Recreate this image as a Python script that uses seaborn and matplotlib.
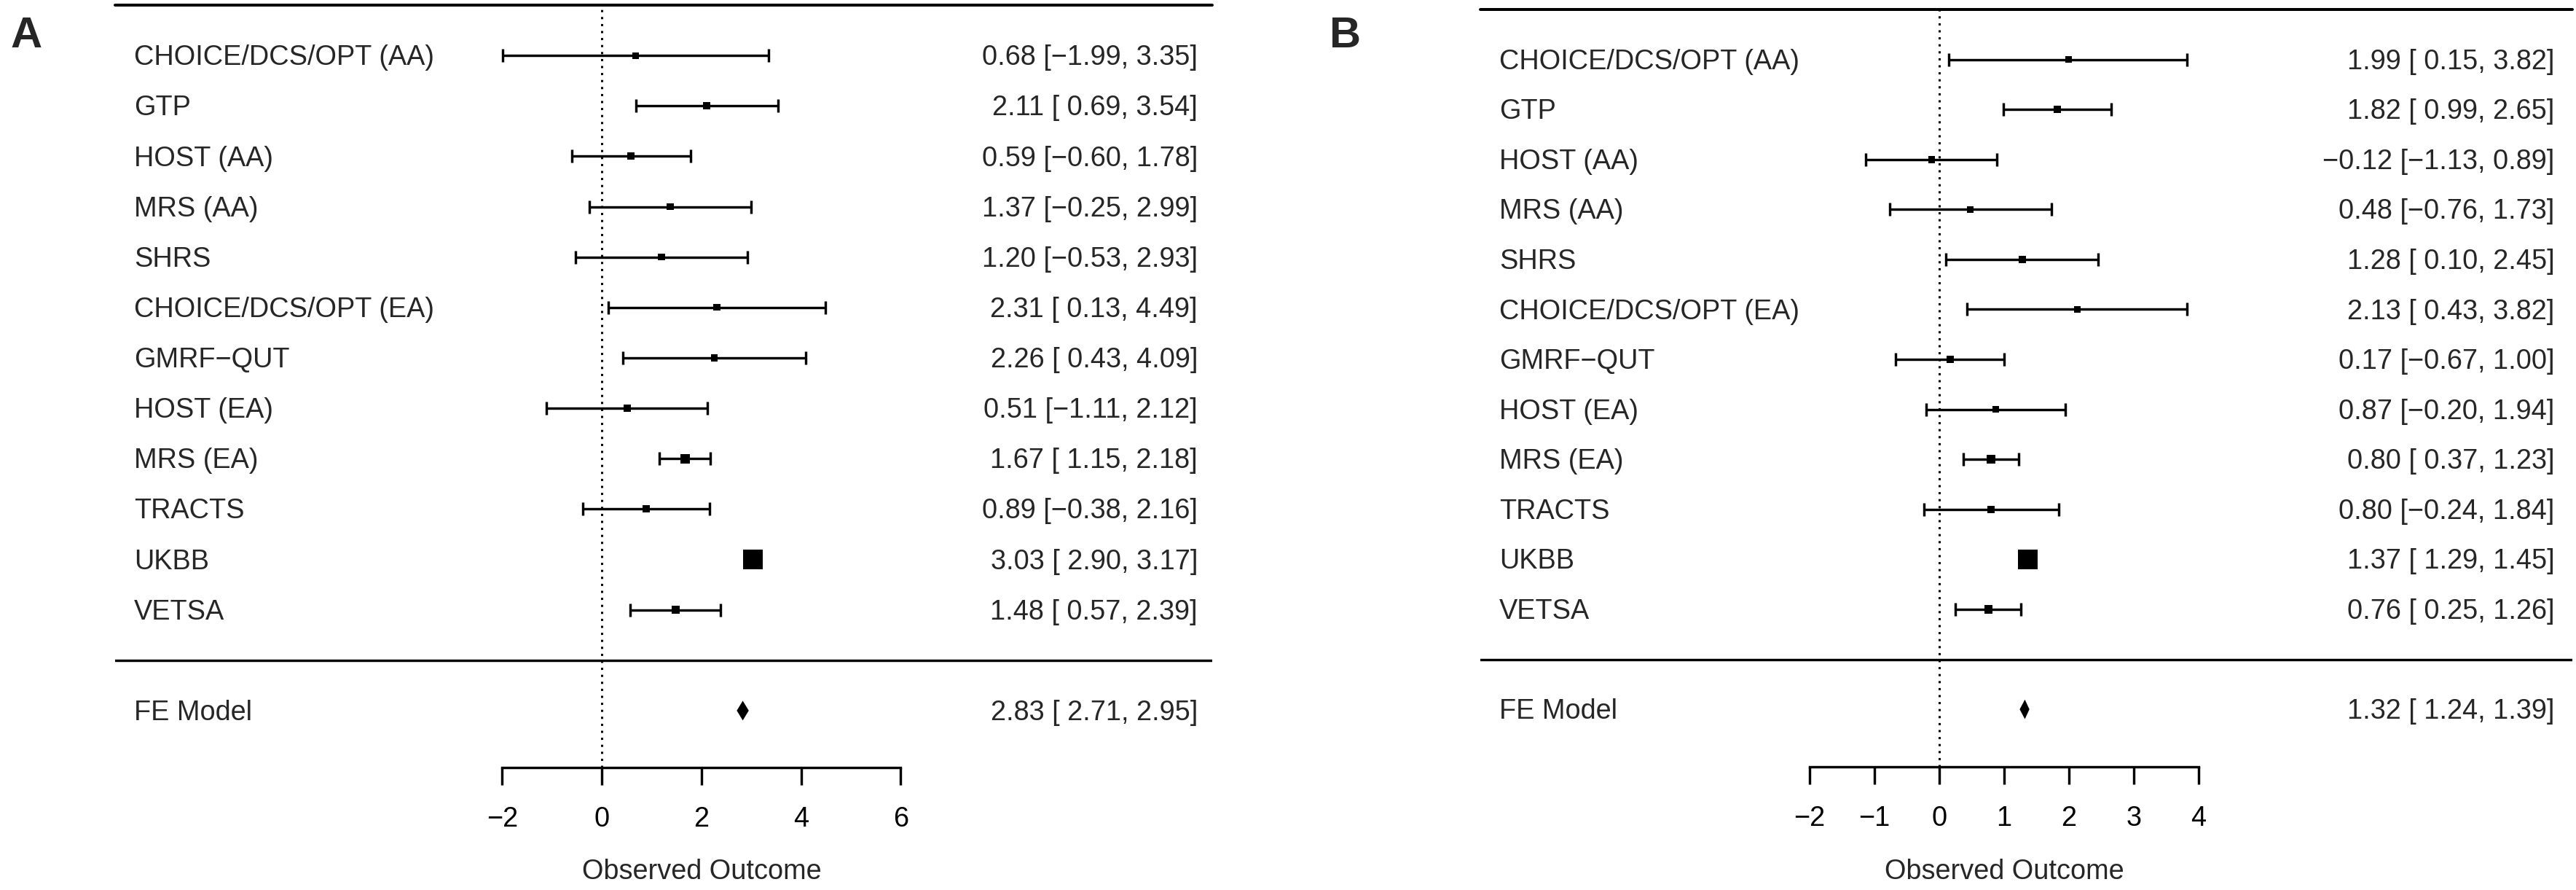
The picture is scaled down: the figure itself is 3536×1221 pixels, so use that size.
import numpy as np
import pandas as pd
import seaborn as sns
import matplotlib.pyplot as plt

sns.set_theme(style='white')
plt.rcParams['font.family'] = ['Liberation Sans', 'DejaVu Sans']

studies = ["CHOICE/DCS/OPT (AA)", "GTP", "HOST (AA)", "MRS (AA)", "SHRS",
           "CHOICE/DCS/OPT (EA)", "GMRF\u2212QUT", "HOST (EA)", "MRS (EA)",
           "TRACTS", "UKBB", "VETSA"]

est_a = [0.68, 2.11, 0.59, 1.37, 1.20, 2.31, 2.26, 0.51, 1.67, 0.89, 3.03, 1.48]
lb_a = [-1.99, 0.69, -0.60, -0.25, -0.53, 0.13, 0.43, -1.11, 1.15, -0.38, 2.90, 0.57]
ub_a = [3.35, 3.54, 1.78, 2.99, 2.93, 4.49, 4.09, 2.12, 2.18, 2.16, 3.17, 2.39]
fe_a = [2.83, 2.71, 2.95]
ticks_a = [-2, 0, 2, 4, 6]

est_b = [1.99, 1.82, -0.12, 0.48, 1.28, 2.13, 0.17, 0.87, 0.80, 0.80, 1.37, 0.76]
lb_b = [0.15, 0.99, -1.13, -0.76, 0.10, 0.43, -0.67, -0.20, 0.37, -0.24, 1.29, 0.25]
ub_b = [3.82, 2.65, 0.89, 1.73, 2.45, 3.82, 1.00, 1.94, 1.23, 1.84, 1.45, 1.26]
fe_b = [1.32, 1.24, 1.39]
ticks_b = [-2, -1, 0, 1, 2, 3, 4]

W, H, DPI = 3536, 1221, 100
PX = 72 / DPI  # points per pixel
FS = 27.3
LW = 3.4 * PX
DY = 0.19  # baseline drop so caps sit centred on the row


def fmt(v, w=0):
    return f"{v:{w}.2f}".replace('-', '\u2212')


def forest(fig, box, xlim, ylim, xlab, xtxt, est, lb, ub, fe, ticks):
    left, right, top, bottom = box
    ax = fig.add_axes([left / W, 1 - bottom / H, (right - left) / W, (bottom - top) / H])
    ax.set_xlim(xlim)
    ax.set_ylim(ylim)
    k = len(est)
    df = pd.DataFrame({'study': studies, 'est': est, 'lb': lb, 'ub': ub,
                       'row': np.arange(k, 0, -1)})

    # point size from precision, as metafor does
    se = (df['ub'] - df['lb']) / (2 * 1.96)
    wi = 1 / se
    wi = wi / wi.sum()
    ps = (wi - wi.min()) / (wi.max() - wi.min()) + 0.5
    side = ps * 18 * PX

    ax.plot([0, 0], [ylim[0], k + 1], color='black', lw=3 * PX, ls=(0, (1, 2.2)), zorder=1)
    ax.errorbar(df['est'], df['row'], xerr=[df['est'] - df['lb'], df['ub'] - df['est']],
                fmt='none', ecolor='black', elinewidth=LW, capsize=6.8, capthick=LW, zorder=2)
    sns.scatterplot(data=df, x='est', y='row', marker='s', color='black', s=side ** 2,
                    linewidth=0, legend=False, ax=ax, zorder=3)

    h = 0.195
    ax.fill([fe[1], fe[0], fe[2], fe[0]], [-1, -1 + h, -1, -1 - h], color='black', lw=0, zorder=3)

    ax.axhline(k + 1, color='black', lw=4 * PX, clip_on=False)
    ax.axhline(0, color='black', lw=LW)

    for _, r in df.iterrows():
        ax.text(xlab, r['row'] - DY, r['study'], ha='left', va='baseline', fontsize=FS)
        ax.text(xtxt, r['row'] - DY, f"{fmt(r['est'])} [{fmt(r['lb'], 5)}, {fmt(r['ub'])}]",
                ha='right', va='baseline', fontsize=FS)
    ax.text(xlab, -1 - DY, "FE Model", ha='left', va='baseline', fontsize=FS)
    ax.text(xtxt, -1 - DY, f"{fmt(fe[0])} [{fmt(fe[1], 5)}, {fmt(fe[2])}]",
            ha='right', va='baseline', fontsize=FS)

    for s in ['top', 'left', 'right']:
        ax.spines[s].set_visible(False)
    ax.spines['bottom'].set_bounds(ticks[0], ticks[-1])
    ax.spines['bottom'].set_linewidth(LW)
    ax.spines['bottom'].set_color('black')
    ax.set_xticks(ticks)
    ax.set_yticks([])
    ax.tick_params(axis='x', direction='out', length=24 * PX, width=LW, colors='black',
                   labelsize=FS, pad=21, bottom=True)
    ax.set_xlabel('')
    ax.set_ylabel('')
    ax.annotate("Observed Outcome", xy=(np.mean([ticks[0], ticks[-1]]), 0),
                xycoords=('data', 'axes fraction'), xytext=(0, -(1206 - bottom) * PX),
                textcoords='offset points', ha='center', va='baseline', fontsize=FS)
    return ax


fig = plt.figure(figsize=(W / DPI, H / DPI), dpi=DPI)
forest(fig, (158, 1664, 7, 1053), (-9.766, 12.251), (-2.13, 13), -9.386, 11.96,
       est_a, lb_a, ub_a, fe_a, ticks_a)
forest(fig, (2032, 3531, 13, 1052), (-7.079, 9.764), (-2.15, 13), -6.787, 9.49,
       est_b, lb_b, ub_b, fe_b, ticks_b)

fig.text(36 / W, 1 - 65 / H, 'A', fontsize=43, fontweight='bold', ha='center', va='baseline')
fig.text(1846 / W, 1 - 65 / H, 'B', fontsize=43, fontweight='bold', ha='center', va='baseline')

fig.savefig('out.png', dpi=DPI)
